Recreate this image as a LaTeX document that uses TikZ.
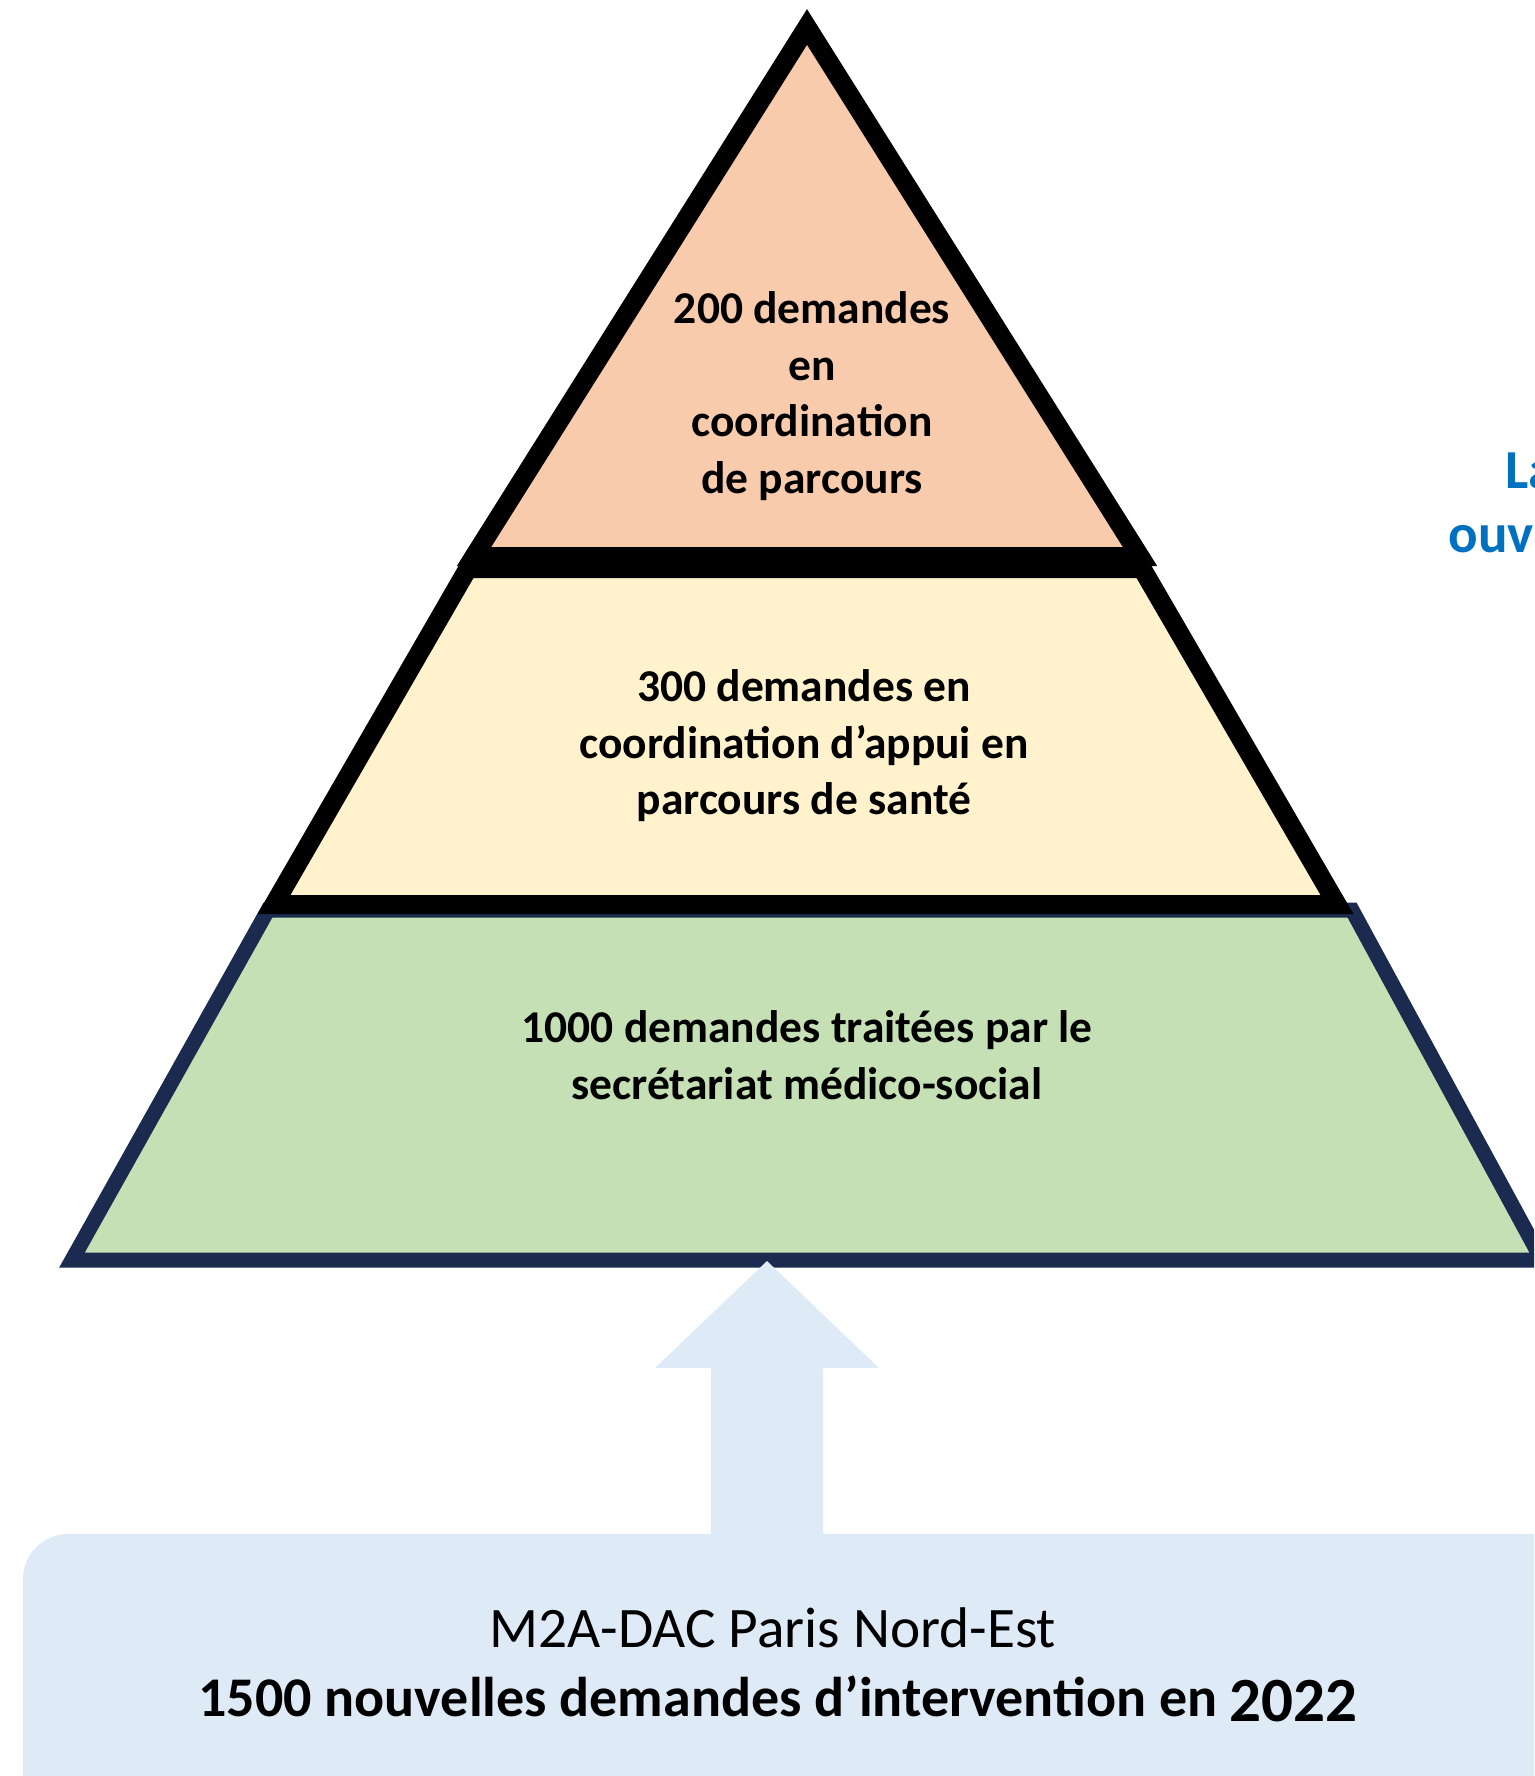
\documentclass[tikz,border=0pt]{standalone}
\usepackage{fontspec}
\setmainfont{Carlito}
\usetikzlibrary{positioning}

\definecolor{peach}{HTML}{F8CBAD}
\definecolor{cream}{HTML}{FFF2CC}
\definecolor{leaf}{HTML}{C5E0B4}
\definecolor{navy}{HTML}{1B2B50}
\definecolor{pale}{HTML}{DEEBF7}
\definecolor{ink}{HTML}{0070C0}

\tikzset{
  level/.style = {draw=black, line width=19pt, line join=miter},
  levelbase/.style = {draw=navy, line width=15pt, line join=miter},
  levellabel/.style = {align=center, font=\fontsize{45.5}{56.6}\selectfont\bfseries},
  boxlabel/.style = {font=\fontsize{57.3}{70}\selectfont},
  sidelabel/.style = {anchor=base west, text=ink, font=\fontsize{55}{66}\selectfont\bfseries}
}

\begin{document}
\begin{tikzpicture}[x=1pt, y=-1pt, node distance = 71pt]
\clip (0,0) rectangle (1534,1776);

\fill[pale, rounded corners=45pt] (23,1534) rectangle (1620,1860);

\filldraw[fill=leaf, levelbase] (72,1260) -- (268,910) -- (1352,910) -- (1542,1260) -- cycle;
\filldraw[fill=cream, level] (274,904.5) -- (468,568.5) -- (1142,568.5) -- (1337,904.5) -- cycle;
\filldraw[fill=peach, level] (807,27) -- (1140,556.5) -- (474,556.5) -- cycle;

\fill[pale] (711,1540) -- (711,1368) -- (655,1368) -- (767,1261)
    -- (879,1368) -- (823,1368) -- (823,1540) -- cycle;

\node[levellabel] (t_top) at (812,396) {200 demandes\\en\\coordination\\de parcours};
\node[levellabel] (t_mid) at (804,746) {300 demandes en\\coordination d’appui en\\parcours de santé};
\node[levellabel] (t_low) at (807,1055) {1000 demandes traitées par le\\secrétariat médico-social};

\node[boxlabel] (dac) at (773,1628) {M2A-DAC Paris Nord-Est};
\node[boxlabel, font=\fontsize{56}{70}\selectfont\bfseries, xshift=5pt] (total) [below of = dac]
    {1500 nouvelles demandes d’intervention en \raisebox{-5pt}{\fontsize{63}{70}\selectfont\bfseries 2022}};

\node[sidelabel] (la) at (1502,488) {La};
\node[sidelabel] (ouv) at (1445,552) {ouv};
\end{tikzpicture}
\end{document}
